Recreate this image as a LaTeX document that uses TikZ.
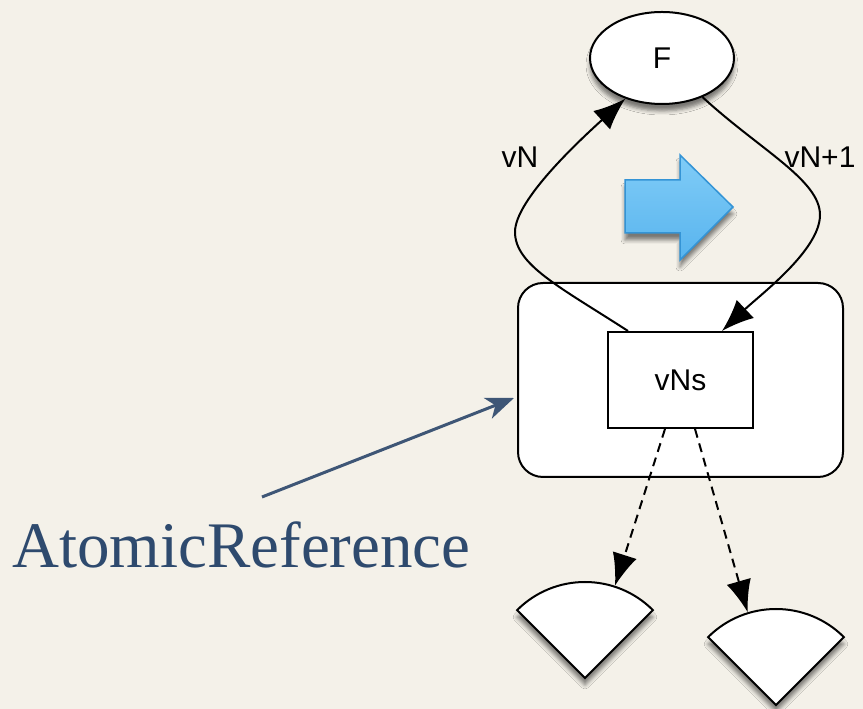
\documentclass[tikz,border=0pt]{standalone}
\usepackage{fontspec}
\newfontfamily\labelfont{Liberation Sans}
\newfontfamily\titlefont{Liberation Serif}
\usetikzlibrary{arrows.meta,calc,shapes.geometric,shadows.blur}
\definecolor{bg}{RGB}{244,241,233}
\definecolor{refblue}{RGB}{46,74,110}
\definecolor{arrowblue}{RGB}{62,86,118}
\definecolor{bluetop}{RGB}{128,204,247}
\definecolor{bluebot}{RGB}{88,180,238}
\definecolor{blueedge}{RGB}{52,148,214}
\tikzset{
  bigtip/.tip={Latex[length=32pt,width=25pt]},
  conn/.style={draw=black,line width=2pt,-bigtip},
  dashconn/.style={conn,dash pattern=on 9pt off 6pt},
  myshadow/.style={blur shadow={shadow xshift=0pt,shadow yshift=-7pt,shadow blur radius=4pt,shadow opacity=50}},
  lbl/.style={font=\labelfont\fontsize{30}{36}\selectfont,inner sep=0},
  sector/.style={draw=black,line width=2pt,fill=white,line join=miter,myshadow}}
\begin{document}
\begin{tikzpicture}[x=1pt,y=1pt]
\fill[bg] (0,0) rectangle (863,709);
\useasboundingbox (0,0) rectangle (863,709);
% container
\node[draw,line width=2pt,rounded corners=25pt,fill=white,minimum width=325pt,minimum height=194pt,inner sep=0] (ar) at (680.5,329) {};
\node[draw,line width=2pt,fill=white,minimum width=145pt,minimum height=96pt,inner sep=0,font=\labelfont\fontsize{30}{36}\selectfont] (vns) at (680.5,329) {vNs};
% F
\node[ellipse,draw,line width=2pt,fill=white,minimum width=144pt,minimum height=92pt,inner sep=0,myshadow,font=\labelfont\fontsize{30}{36}\selectfont] (f) at (662,651) {F};
% blue arrow
\path[draw=blueedge,line width=1.5pt,top color=bluetop,bottom color=bluebot,line join=miter,myshadow]
  (625,529) -- (680,529) -- (680,554) -- (733,502) -- (680,449) -- (680,476) -- (625,476) -- cycle;
% sectors
\coordinate (s1) at (585,31);
\coordinate (s2) at (776,4);
\path[sector] (s1) -- ++(45:96) arc[start angle=45,end angle=135,radius=96] -- cycle;
\path[sector] (s2) -- ++(45:96) arc[start angle=45,end angle=135,radius=96] -- cycle;
% curves
\draw[conn] ($(vns.north)+(-52.5,0)$) .. controls (560,422) and (515,444) .. (515,477)
  .. controls (515,509) and (580,569) .. (f.228);
\draw[conn] (f.-44) .. controls (760,559) and (820,529) .. (820,494)
  .. controls (820,459) and (760,414) .. ($(vns.north)+(41.5,0)$);
\node[lbl] (vnl) at (520,552) {vN};
\node[lbl] (vn1l) at (820,552) {vN+1};
% dashed
\draw[dashconn] ($(vns.south)+(-15.5,0)$) -- ($(s1)+(72:97)$);
\draw[dashconn] ($(vns.south)+(14.5,0)$) -- ($(s2)+(107:97)$);
% AtomicReference
\node[anchor=base west,inner sep=0,text=refblue,font=\titlefont\fontsize{65}{72}\selectfont] (atom) at (12,141) {AtomicReference};
\draw[arrowblue,line width=3pt,-{Stealth[length=28pt,width=22pt,inset=8pt]}] ($(atom.base west)+(250,71)$) -- ($(ar.west)+(-3,-18)$);
\end{tikzpicture}
\end{document}
